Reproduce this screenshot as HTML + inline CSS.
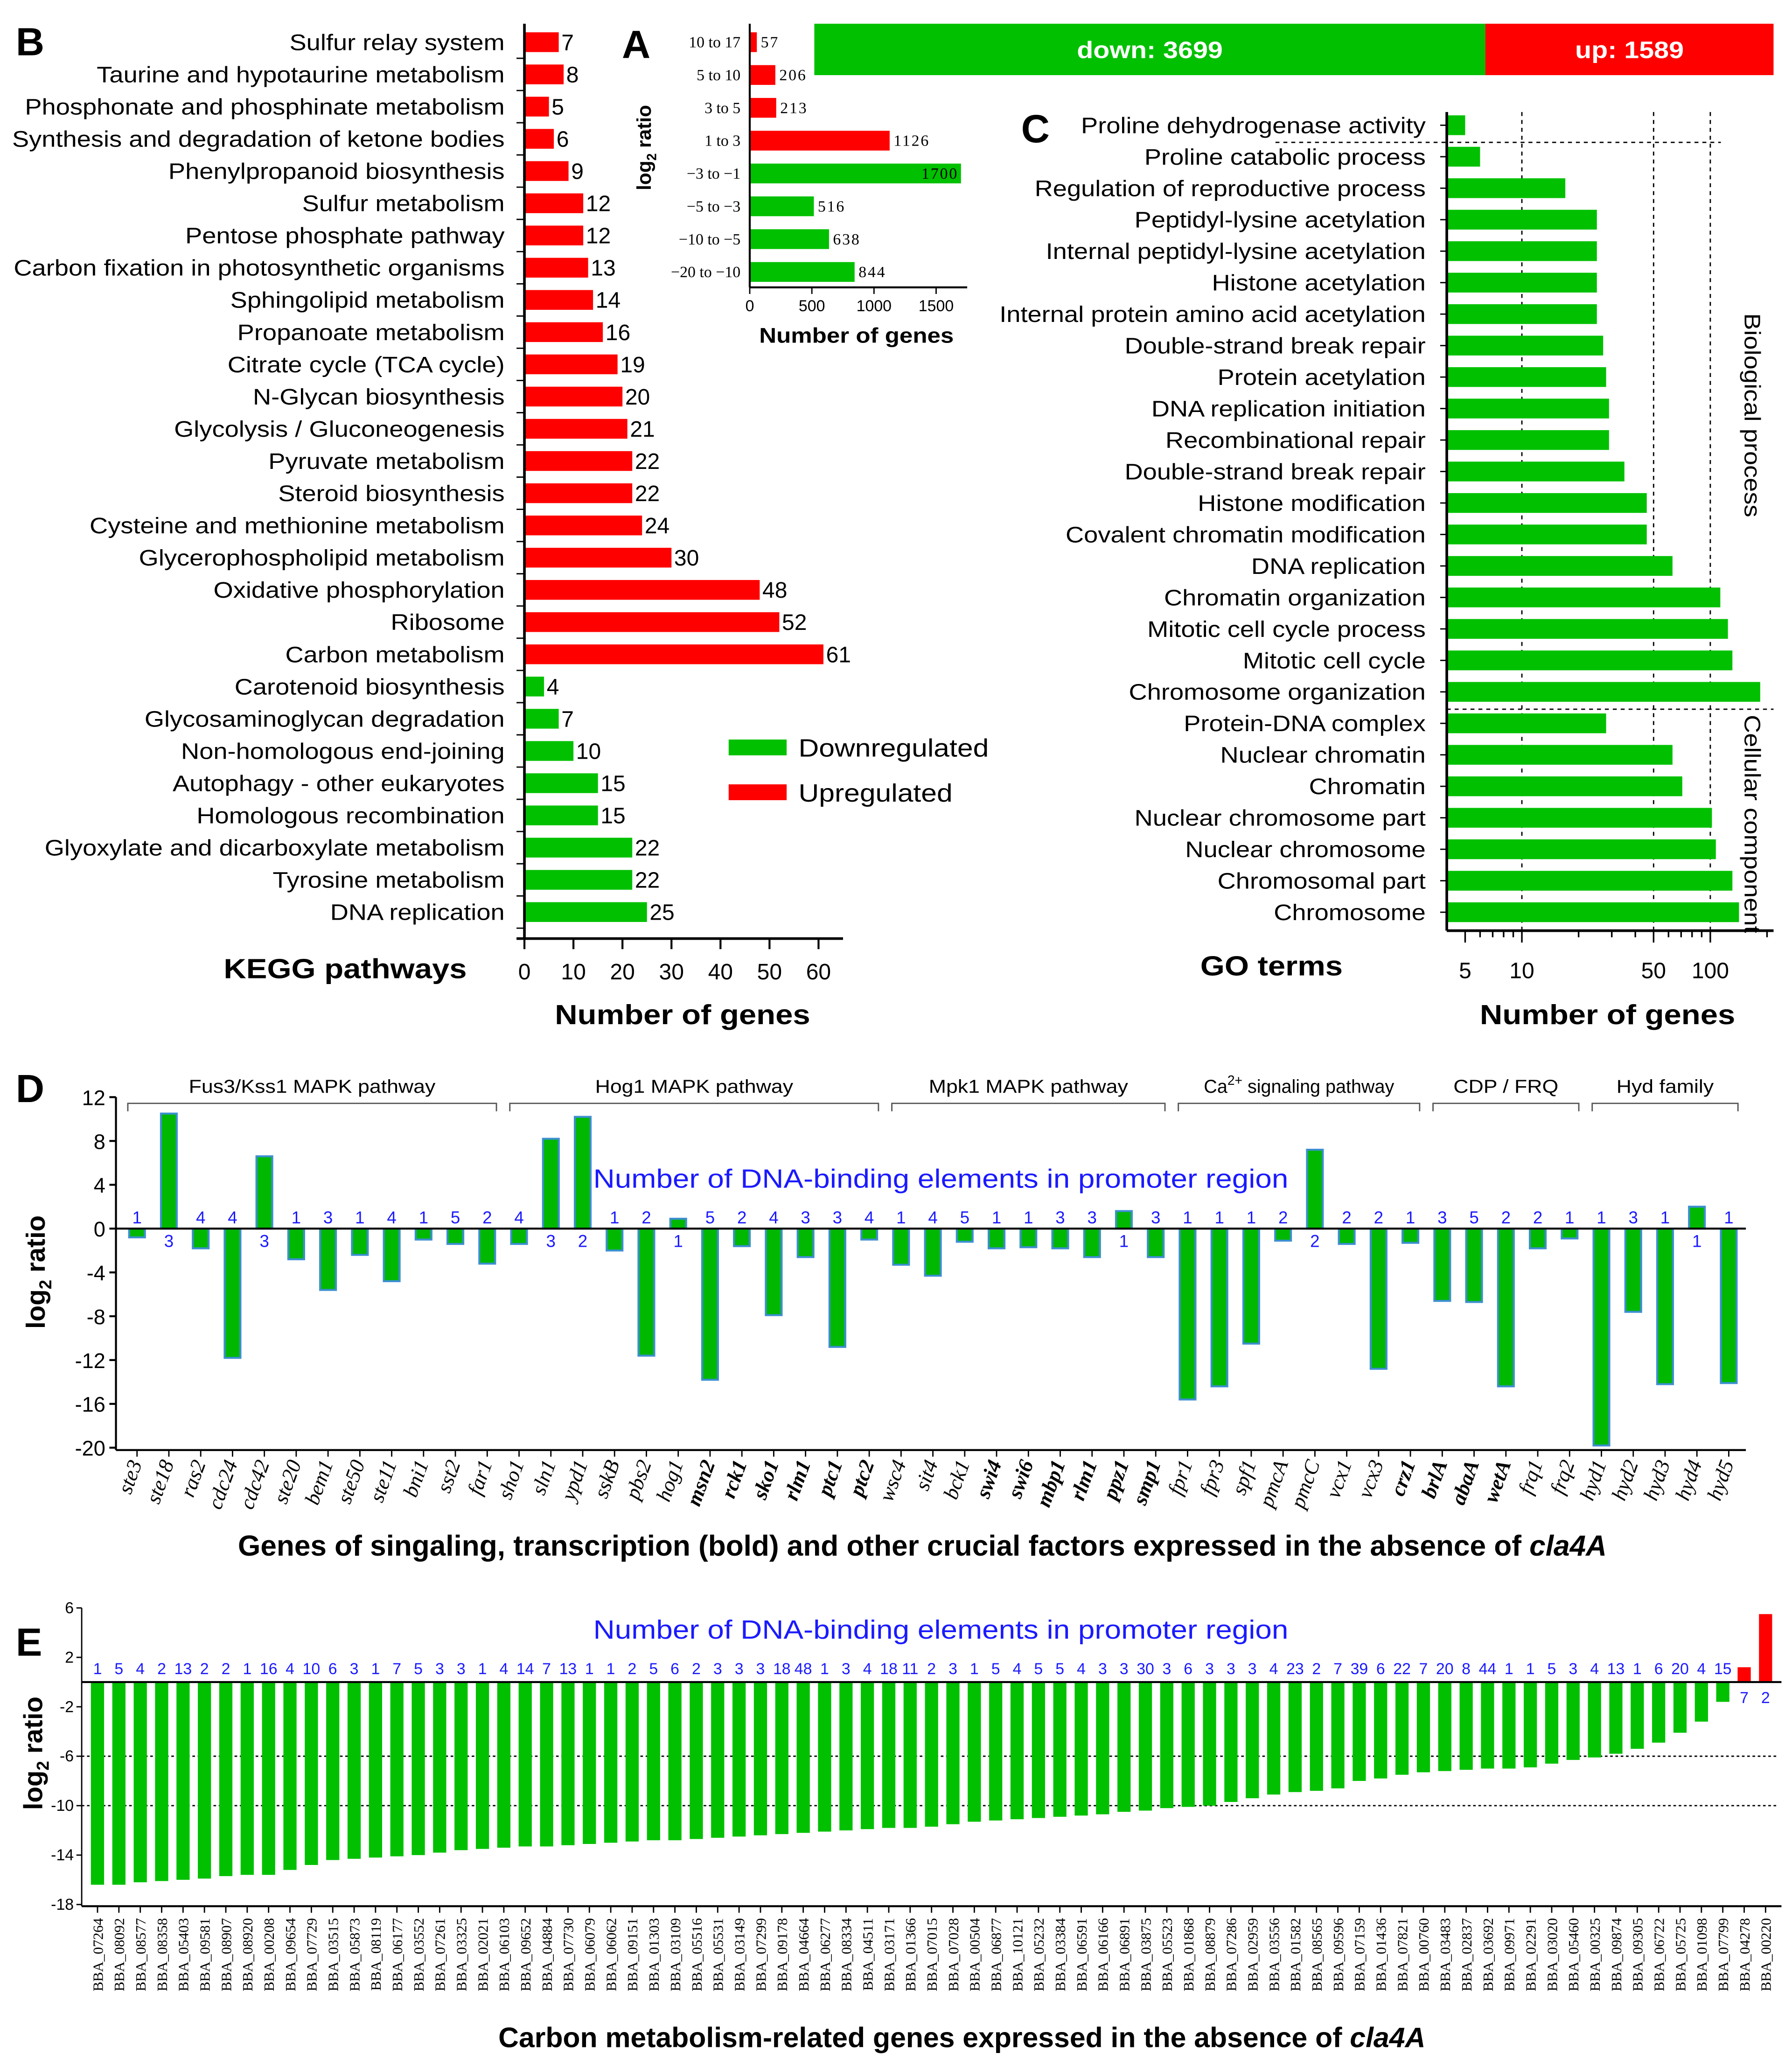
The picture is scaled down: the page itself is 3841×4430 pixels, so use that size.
<!DOCTYPE html>
<html><head><meta charset="utf-8"><style>
html,body{margin:0;padding:0;background:#fff}
svg{display:block}
text{font-family:"Liberation Sans",sans-serif}
.s{font-family:"Liberation Serif",serif}
</style></head><body>
<svg id="fig" xmlns="http://www.w3.org/2000/svg" width="3841" height="4430" viewBox="0 0 1360 1568" preserveAspectRatio="none">
<g id="gB"></g>
<g id="gA"></g>
<g id="gC"></g>
<g id="gD"></g>
<g id="gE"></g>
</svg>
<script>
// ---- Panel B data ----
const keggNames=["Sulfur relay system","Taurine and hypotaurine metabolism","Phosphonate and phosphinate metabolism","Synthesis and degradation of ketone bodies","Phenylpropanoid biosynthesis","Sulfur metabolism","Pentose phosphate pathway","Carbon fixation in photosynthetic organisms","Sphingolipid metabolism","Propanoate metabolism","Citrate cycle (TCA cycle)","N-Glycan biosynthesis","Glycolysis / Gluconeogenesis","Pyruvate metabolism","Steroid biosynthesis","Cysteine and methionine metabolism","Glycerophospholipid metabolism","Oxidative phosphorylation","Ribosome","Carbon metabolism","Carotenoid biosynthesis","Glycosaminoglycan degradation","Non-homologous end-joining","Autophagy - other eukaryotes","Homologous recombination","Glyoxylate and dicarboxylate metabolism","Tyrosine metabolism","DNA replication"];
const keggValues=[7,8,5,6,9,12,12,13,14,16,19,20,21,22,22,24,30,48,52,61,4,7,10,15,15,22,22,25];
const keggDir=["u","u","u","u","u","u","u","u","u","u","u","u","u","u","u","u","u","u","u","u","d","d","d","d","d","d","d","d"];
const keggTicks=[0,10,20,30,40,50,60];
// ---- Panel A data ----
const aCats=["10 to 17","5 to 10","3 to 5","1 to 3","\u22123 to \u22121","\u22125 to \u22123","\u221210 to \u22125","\u221220 to \u221210"];
const aValues=[57,206,213,1126,1700,516,638,844];
const aTicks=[0,500,1000,1500];
const totalDown=3699, totalUp=1589;
// ---- Panel C data ----
const goNames=["Proline dehydrogenase activity","Proline catabolic process","Regulation of reproductive process","Peptidyl-lysine acetylation","Internal peptidyl-lysine acetylation","Histone acetylation","Internal protein amino acid acetylation","Double-strand break repair","Protein acetylation","DNA replication initiation","Recombinational repair","Double-strand break repair","Histone modification","Covalent chromatin modification","DNA replication","Chromatin organization","Mitotic cell cycle process","Mitotic cell cycle","Chromosome organization","Protein-DNA complex","Nuclear chromatin","Chromatin","Nuclear chromosome part","Nuclear chromosome","Chromosomal part","Chromosome"];
const goValues=[5,6,17,25,25,25,25,27,28,29,29,35,46,46,63,113,124,131,184,28,63,71,102,107,131,142];
const goTicks=[5,10,50,100];
// ---- Panel D data ----
const dGenes=["ste3","ste18","ras2","cdc24","cdc42","ste20","bem1","ste50","ste11","bni1","sst2","far1","sho1","sln1","ypd1","sskB","pbs2","hog1","msn2","rck1","sko1","rlm1","ptc1","ptc2","wsc4","sit4","bck1","swi4","swi6","mbp1","rlm1","ppz1","smp1","fpr1","fpr3","spf1","pmcA","pmcC","vcx1","vcx3","crz1","brlA","abaA","wetA","frq1","frq2","hyd1","hyd2","hyd3","hyd4","hyd5"];
const dValues=[-0.8,10.5,-1.8,-11.8,6.6,-2.8,-5.6,-2.4,-4.8,-1.0,-1.4,-3.2,-1.4,8.2,10.2,-2.0,-11.6,0.9,-13.8,-1.6,-7.9,-2.6,-10.8,-1.0,-3.3,-4.3,-1.2,-1.8,-1.7,-1.8,-2.6,1.6,-2.6,-15.6,-14.4,-10.5,-1.1,7.2,-1.4,-12.8,-1.3,-6.6,-6.7,-14.4,-1.8,-0.9,-19.8,-7.6,-14.2,2.0,-14.1];
const dElements=[1,3,4,4,3,1,3,1,4,1,5,2,4,3,2,1,2,1,5,2,4,3,3,4,1,4,5,1,1,3,3,1,3,1,1,1,2,2,2,2,1,3,5,2,2,1,1,3,1,1,1];
const dBold=[0,0,0,0,0,0,0,0,0,0,0,0,0,0,0,0,0,0,1,1,1,1,1,1,0,0,0,1,1,1,1,1,1,0,0,0,0,0,0,0,1,1,1,1,0,0,0,0,0,0,0];
const dTicks=[12,8,4,0,-4,-8,-12,-16,-20];
const dGroups=["Fus3/Kss1 MAPK pathway","Hog1 MAPK pathway","Mpk1 MAPK pathway","Ca2+ signaling pathway","CDP / FRQ","Hyd family"];
const dGroupStart=[0,12,24,33,41,46];
const dGroupEnd=[11,23,32,40,45,50];
// ---- Panel E data ----
const eGenes=["07264","08092","08577","08358","05403","09581","08907","08920","00208","09654","07729","03515","05873","08119","06177","03552","07261","03325","02021","06103","09652","04884","07730","06079","06062","09151","01303","03109","05516","05531","03149","07299","09178","04664","06277","08334","04511","03171","01366","07015","07028","00504","06877","10121","05232","03384","06591","06166","06891","03875","05523","01868","08879","07286","02959","03556","01582","08565","09596","07159","01436","07821","00760","03483","02837","03692","09971","02291","03020","05460","00325","09874","09305","06722","05725","01098","07799","04278","00220"];
const eValues=[-16.4,-16.4,-16.2,-16.1,-16.0,-15.9,-15.7,-15.6,-15.6,-15.2,-14.8,-14.4,-14.3,-14.2,-14.1,-14.0,-13.8,-13.6,-13.5,-13.4,-13.3,-13.3,-13.2,-13.1,-13.0,-12.9,-12.8,-12.8,-12.7,-12.6,-12.5,-12.4,-12.3,-12.2,-12.1,-12.0,-11.9,-11.8,-11.8,-11.7,-11.5,-11.3,-11.2,-11.1,-11.0,-10.9,-10.8,-10.7,-10.5,-10.4,-10.2,-10.1,-10.0,-9.7,-9.4,-9.1,-8.9,-8.8,-8.6,-8.0,-7.8,-7.5,-7.3,-7.2,-7.1,-7.0,-7.0,-6.9,-6.6,-6.3,-6.1,-5.8,-5.4,-4.9,-4.1,-3.2,-1.6,1.2,5.5];
const eElements=[1,5,4,2,13,2,2,1,16,4,10,6,3,1,7,5,3,3,1,4,14,7,13,1,1,2,5,6,2,3,3,3,18,48,1,3,4,18,11,2,3,1,5,4,5,5,4,3,3,30,3,6,3,3,3,4,23,2,7,39,6,22,7,20,8,44,1,1,5,3,4,13,1,6,20,4,15,7,2];
const eTicks=[6,2,-2,-6,-10,-14,-18];

const NS="http://www.w3.org/2000/svg";
function mk(parent,tag,attrs,txt){const e=document.createElementNS(NS,tag);for(const k in attrs)e.setAttribute(k,attrs[k]);if(txt!==undefined)e.textContent=txt;parent.appendChild(e);return e;}
const GREEN="#00c000",RED="#ff0000";

// ===== Panel B =====
(function(){
const g=document.getElementById('gB');
const x0=398,sx=3.72,y0=32,dy=24.44;
const X=v=>x0+v*sx, Y=i=>y0+i*dy;
let t=mk(g,'text',{x:12,y:42,'font-size':30,'font-weight':'bold'},'B');


keggNames.forEach((n,i)=>{
 let l=mk(g,'text',{x:383,y:Y(i)+6,'font-size':17,'text-anchor':'end','class':'w'},n);
 
 
 let r=mk(g,'rect',{x:x0,y:Y(i)-7.5,width:X(keggValues[i])-x0,height:15,fill:keggDir[i]=='u'?RED:GREEN});
 
 
 let v=mk(g,'text',{x:X(keggValues[i])+2,y:Y(i)+6,'font-size':17},keggValues[i]);
 
 
});
mk(g,'line',{x1:x0,y1:18,x2:x0,y2:712,stroke:'#000','stroke-width':2});
mk(g,'line',{x1:x0-6,y1:712,x2:X(65),y2:712,stroke:'#000','stroke-width':2});
keggTicks.forEach(v=>{
 mk(g,'line',{x1:X(v),y1:712,x2:X(v),y2:720,stroke:'#000','stroke-width':1.5});
 let l=mk(g,'text',{x:X(v),y:743,'font-size':17,'text-anchor':'middle'},v);
 
 
});
for(let i=0;i<keggNames.length;i++)mk(g,'line',{x1:x0-6,y1:Y(i)+dy/2,x2:x0,y2:Y(i)+dy/2,stroke:'#000','stroke-width':1});
let a=mk(g,'text',{x:262,y:742,'font-size':21,'font-weight':'bold','text-anchor':'middle','class':'w'},'KEGG pathways');

a=mk(g,'text',{x:518,y:777,'font-size':21,'font-weight':'bold','text-anchor':'middle','class':'w'},'Number of genes');

let lg=mk(g,'g',{});

mk(lg,'rect',{x:553,y:561,width:44,height:12,fill:GREEN});
mk(lg,'text',{x:606,y:574,'font-size':19,'class':'w'},'Downregulated');
mk(lg,'rect',{x:553,y:595,width:44,height:12,fill:RED});
mk(lg,'text',{x:606,y:608,'font-size':19,'class':'w'},'Upregulated');
})();

// ===== Panel A =====
(function(){
const g=document.getElementById('gA');
const x0=569,sx=0.0943,y0=32,dy=24.9;
const X=v=>x0+v*sx,Y=i=>y0+i*dy;
let t=mk(g,'text',{x:472,y:44,'font-size':30,'font-weight':'bold'},'A');

aCats.forEach((c,i)=>{
 let l=mk(g,'text',{x:562,y:Y(i)+4,'font-size':12,'text-anchor':'end','class':'s'},c);
 
 let r=mk(g,'rect',{x:x0,y:Y(i)-7.5,width:X(aValues[i])-x0,height:15,fill:i<4?RED:GREEN});
 
 let inside=aValues[i]>1500;
 let v=mk(g,'text',{x:inside?X(aValues[i])-2:X(aValues[i])+3,y:Y(i)+4,'font-size':12,'class':'s','text-anchor':inside?'end':'start','letter-spacing':1},aValues[i]);
 
});
mk(g,'line',{x1:x0,y1:18,x2:x0,y2:218,stroke:'#000','stroke-width':1.5});
mk(g,'line',{x1:x0,y1:218,x2:X(1750),y2:218,stroke:'#000','stroke-width':1.5});
aTicks.forEach(v=>{
 mk(g,'line',{x1:X(v),y1:218,x2:X(v),y2:223,stroke:'#000'});
 let l=mk(g,'text',{x:X(v),y:236,'font-size':12,'text-anchor':'middle'},v);
 
});
let a=mk(g,'text',{x:650,y:260,'font-size':16,'font-weight':'bold','text-anchor':'middle','class':'w'},'Number of genes');

a=mk(g,'text',{x:0,y:0,'font-size':15,'font-weight':'bold','text-anchor':'middle',transform:'translate(494,112) rotate(-90)'});

a.innerHTML='log<tspan font-size="10" dy="4">2</tspan><tspan dy="-4"> ratio</tspan>';
const tot=totalDown+totalUp, x1=618, w=728, xs=x1+w*totalDown/tot;
let d=mk(g,'rect',{x:x1,y:18,width:xs-x1,height:39,fill:GREEN});

let u=mk(g,'rect',{x:xs,y:18,width:x1+w-xs,height:39,fill:RED});

mk(g,'text',{x:(x1+xs)/2,y:44,'font-size':18,'font-weight':'bold',fill:'#fff','text-anchor':'middle','class':'w'},'down: '+totalDown);
mk(g,'text',{x:(xs+x1+w)/2,y:44,'font-size':18,'font-weight':'bold',fill:'#fff','text-anchor':'middle','class':'w'},'up: '+totalUp);
})();

// ===== Panel C =====
(function(){
const g=document.getElementById('gC');
const x0=1098,y0=95,dy=23.88;
const X=v=>1155+(Math.log10(v)-1)*143, Y=i=>y0+i*dy;
let t=mk(g,'text',{x:775,y:108,'font-size':30,'font-weight':'bold'},'C');

[10,50,100].forEach(v=>mk(g,'line',{x1:X(v),y1:85,x2:X(v),y2:705,stroke:'#000','stroke-dasharray':'3,3','stroke-width':1}));
mk(g,'line',{x1:968,y1:108,x2:1306,y2:108,stroke:'#000','stroke-dasharray':'3,3'});
mk(g,'line',{x1:1098,y1:538,x2:1346,y2:538,stroke:'#000','stroke-dasharray':'3,3'});
goNames.forEach((n,i)=>{
 let l=mk(g,'text',{x:1082,y:Y(i)+6,'font-size':17,'text-anchor':'end','class':'w'},n);
 
 let r=mk(g,'rect',{x:x0,y:Y(i)-7.5,width:X(goValues[i])-x0,height:15,fill:GREEN});
 
 mk(g,'line',{x1:x0-5,y1:Y(i),x2:x0,y2:Y(i),stroke:'#000'});
});
mk(g,'line',{x1:x0,y1:85,x2:x0,y2:706,stroke:'#000','stroke-width':2});
mk(g,'line',{x1:x0,y1:706,x2:1346,y2:706,stroke:'#000','stroke-width':2});
[5,6,7,8,9,10,20,30,40,50,60,70,80,90,100,200].forEach(v=>{
 if(X(v)<1347)mk(g,'line',{x1:X(v),y1:706,x2:X(v),y2:goTicks.includes(v)?715:711,stroke:'#000','stroke-width':1.2});
});
goTicks.forEach(v=>{
 let l=mk(g,'text',{x:X(v),y:742,'font-size':17,'text-anchor':'middle'},v);
 
});
let a=mk(g,'text',{x:965,y:740,'font-size':21,'font-weight':'bold','text-anchor':'middle','class':'w'},'GO terms');

a=mk(g,'text',{x:1220,y:777,'font-size':21,'font-weight':'bold','text-anchor':'middle','class':'w'},'Number of genes');

a=mk(g,'text',{x:0,y:0,'font-size':17,'text-anchor':'middle',transform:'translate(1324,315) rotate(90)','class':'w'},'Biological process');

a=mk(g,'text',{x:0,y:0,'font-size':17,'text-anchor':'middle',transform:'translate(1324,625) rotate(90)','class':'w'},'Cellular component');

})();

// ===== Panel D =====
(function(){
const g=document.getElementById('gD');
const xa=88,x0=104,dx=24.16,Y=v=>932-v*8.31, X=i=>x0+i*dx;
let t=mk(g,'text',{x:12,y:836,'font-size':30,'font-weight':'bold'},'D');

dGroups.forEach((n,k)=>{
 const a=X(dGroupStart[k])-7,b=X(dGroupEnd[k])+7;
 mk(g,'path',{d:`M${a},843 V837 H${b} V843`,fill:'none',stroke:'#555','stroke-width':1});
 let l=mk(g,'text',{x:(a+b)/2,y:829,'font-size':14,'text-anchor':'middle'});
 
 if(n.indexOf('Ca2+')==0)l.innerHTML='Ca<tspan font-size="10" dy="-6">2+</tspan><tspan dy="6"> signaling pathway</tspan>';else{l.textContent=n;l.setAttribute('class','w');}
});
let a=mk(g,'text',{x:714,y:901,'font-size':20,fill:'#1a1aff','text-anchor':'middle','class':'w'},'Number of DNA-binding elements in promoter region');

dGenes.forEach((n,i)=>{
 const v=dValues[i];
 let r=mk(g,'rect',{x:X(i)-6,y:Math.min(Y(v),Y(0)),width:12,height:Math.abs(Y(v)-Y(0)),fill:'#00b800',stroke:'#3d8fd0','stroke-width':1.5});
 
 let e=mk(g,'text',{x:X(i),y:v<0?Y(0)-4:Y(0)+14,'font-size':13,fill:'#1a1aff','text-anchor':'middle'},dElements[i]);
 
 mk(g,'line',{x1:X(i),y1:1100,x2:X(i),y2:1105,stroke:'#000'});
 let l=mk(g,'text',{x:0,y:0,'font-size':16,'class':'s','font-style':'italic','font-weight':dBold[i]?'bold':'normal','text-anchor':'end',transform:`translate(${X(i)+4},1110) rotate(-70)`},n);
 
});
mk(g,'line',{x1:xa,y1:Y(0),x2:1325,y2:Y(0),stroke:'#000','stroke-width':1.5});
mk(g,'line',{x1:xa,y1:Y(12),x2:xa,y2:1100,stroke:'#000','stroke-width':1.5});
mk(g,'line',{x1:xa,y1:1100,x2:1325,y2:1100,stroke:'#000','stroke-width':1.5});
dTicks.forEach(v=>{
 mk(g,'line',{x1:xa-5,y1:Y(v),x2:xa,y2:Y(v),stroke:'#000','stroke-width':1.5});
 let l=mk(g,'text',{x:xa-8,y:Y(v)+6,'font-size':16,'text-anchor':'end'},v);
 
});
a=mk(g,'text',{x:0,y:0,'font-size':20,'font-weight':'bold','text-anchor':'middle',transform:'translate(34,965) rotate(-90)'});

a.innerHTML='log<tspan font-size="13" dy="5">2</tspan><tspan dy="-5"> ratio</tspan>';
a=mk(g,'text',{x:700,y:1180,'font-size':22,'font-weight':'bold','text-anchor':'middle'});

a.innerHTML='Genes of singaling, transcription (bold) and other crucial factors expressed in the absence of <tspan font-style="italic">cla4A</tspan>';
})();

// ===== Panel E =====
(function(){
const g=document.getElementById('gE');
const xa=62,x0=74,dx=16.23,Y=v=>1276-v*9.375,X=i=>x0+i*dx;
let t=mk(g,'text',{x:12,y:1256,'font-size':30,'font-weight':'bold'},'E');

let a=mk(g,'text',{x:714,y:1243,'font-size':20,fill:'#1a1aff','text-anchor':'middle','class':'w'},'Number of DNA-binding elements in promoter region');

[-6,-10].forEach(v=>mk(g,'line',{x1:xa,y1:Y(v),x2:1350,y2:Y(v),stroke:'#000','stroke-dasharray':'2,2'}));
eGenes.forEach((n,i)=>{
 const v=eValues[i];
 let r=mk(g,'rect',{x:X(i)-5,y:Math.min(Y(v),Y(0)),width:10,height:Math.abs(Y(v)-Y(0)),fill:v<0?'#00c000':RED});
 
 let e=mk(g,'text',{x:X(i),y:v<0?Y(0)-6:Y(0)+16,'font-size':12,fill:'#1a1aff','text-anchor':'middle'},eElements[i]);
 
 mk(g,'line',{x1:X(i),y1:1446,x2:X(i),y2:1451,stroke:'#000'});
 let l=mk(g,'text',{x:0,y:0,'font-size':11,'class':'s','text-anchor':'end',transform:`translate(${X(i)+4},1455) rotate(-90)`},'BBA_'+n);
 
});
mk(g,'line',{x1:xa,y1:Y(0),x2:1352,y2:Y(0),stroke:'#000','stroke-width':1.5});
mk(g,'line',{x1:xa,y1:Y(6),x2:xa,y2:1446,stroke:'#000','stroke-width':1});
mk(g,'line',{x1:xa,y1:1446,x2:1352,y2:1446,stroke:'#000','stroke-width':1.5});
eTicks.forEach(v=>{
 mk(g,'line',{x1:xa-4,y1:Y(v),x2:xa,y2:Y(v),stroke:'#000'});
 let l=mk(g,'text',{x:xa-6,y:Y(v)+4,'font-size':12,'text-anchor':'end'},v);
 
});
a=mk(g,'text',{x:0,y:0,'font-size':20,'font-weight':'bold','text-anchor':'middle',transform:'translate(32,1330) rotate(-90)'});

a.innerHTML='log<tspan font-size="13" dy="5">2</tspan><tspan dy="-5"> ratio</tspan>';
a=mk(g,'text',{x:730,y:1553,'font-size':21.5,'font-weight':'bold','text-anchor':'middle'});

a.innerHTML='Carbon metabolism-related genes expressed  in the absence of <tspan font-style="italic">cla4A</tspan>';
})();

// widen sans labels to mimic the reference's wider font
document.querySelectorAll('text.w').forEach(t=>{
 const L=t.getComputedTextLength();
 if(L>0){t.setAttribute('textLength',(L*1.13).toFixed(1));t.setAttribute('lengthAdjust','spacingAndGlyphs');}
});
</script>
</body></html>
